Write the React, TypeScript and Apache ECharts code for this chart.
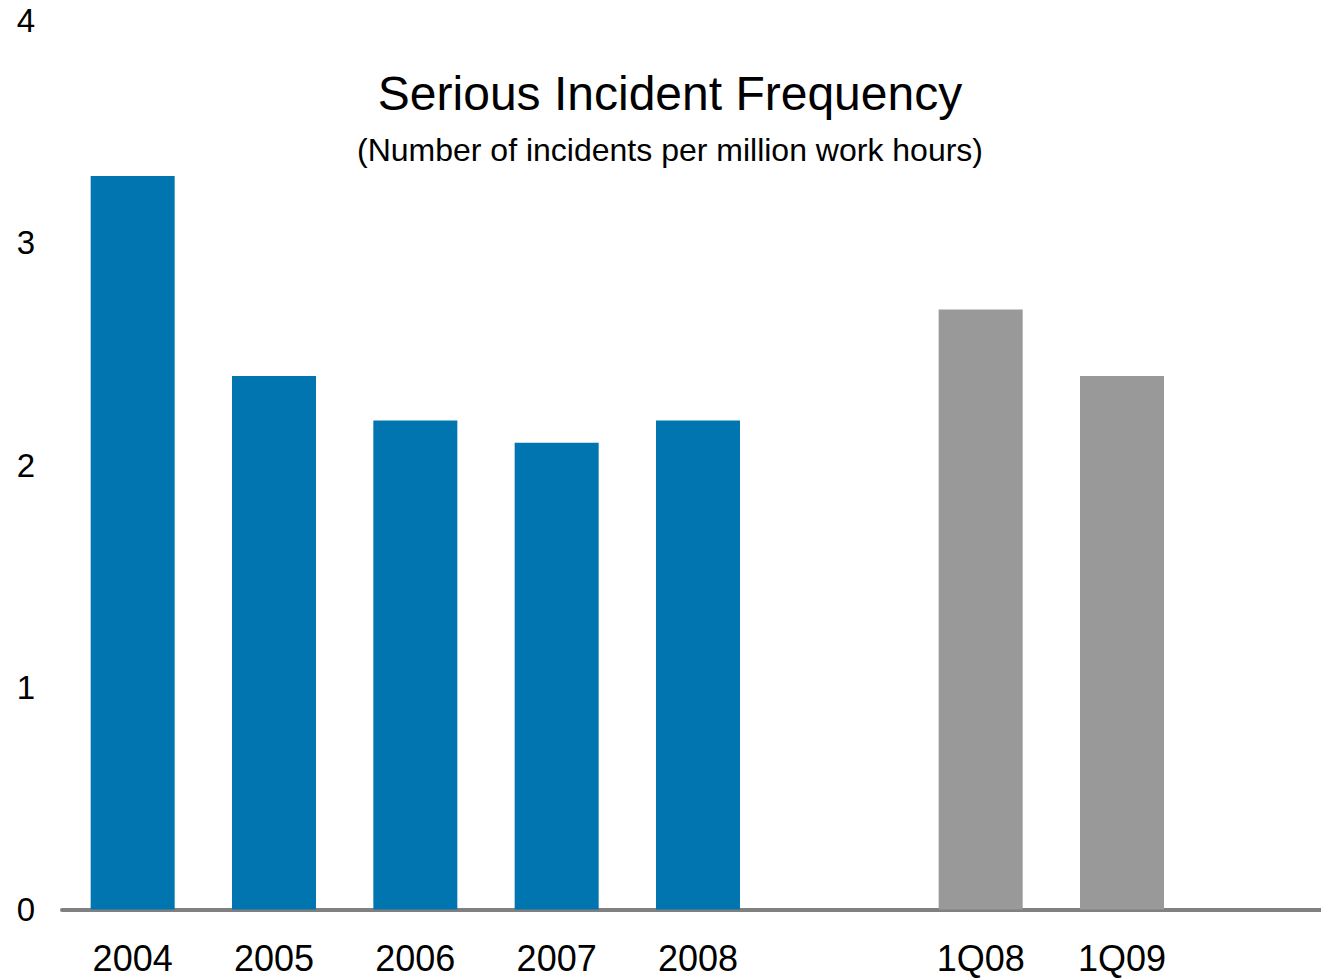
import React, { useEffect, useRef } from "react";
import * as echarts from "echarts";

const categories = ["2004", "2005", "2006", "2007", "2008", "", "1Q08", "1Q09", ""];
const annualValues = [3.3, 2.4, 2.2, 2.1, 2.2, null, null, null, null];
const quarterValues = [null, null, null, null, null, null, 2.7, 2.4, null];
const yTicks = [0, 1, 2, 3, 4];

const FONT = "'Liberation Sans', Arial, Helvetica, sans-serif";

export default function App() {
  const ref = useRef<HTMLDivElement>(null);
  useEffect(() => {
    if (!ref.current) return;
    const chart = echarts.init(ref.current, null, { renderer: "svg" });
    chart.setOption({
      animation: false,
      backgroundColor: "#ffffff",
      title: [
        {
          text: "Serious Incident Frequency",
          left: 665,
          top: 64,
          textAlign: "center",
          textStyle: { fontFamily: FONT, fontSize: 48, fontWeight: "normal", color: "#000" },
        },
        {
          text: "(Number of incidents per million work hours)",
          left: 665,
          top: 129,
          textAlign: "center",
          textStyle: { fontFamily: FONT, fontSize: 32, fontWeight: "normal", color: "#000" },
        },
      ],
      grid: { left: 62, width: 1272, top: 20.5, height: 889 },
      xAxis: {
        type: "category",
        data: categories,
        axisLine: { show: true, lineStyle: { color: "#808080", width: 4 } },
        axisTick: { show: false },
        axisLabel: {
          fontFamily: FONT,
          fontSize: 36,
          lineHeight: 30,
          color: "#000",
          margin: 34,
          interval: 0,
        },
        splitLine: { show: false },
      },
      yAxis: {
        type: "value",
        min: yTicks[0],
        max: yTicks[yTicks.length - 1],
        interval: 1,
        axisLine: { show: false },
        axisTick: { show: false },
        splitLine: { show: false },
        axisLabel: {
          fontFamily: FONT,
          fontSize: 33,
          color: "#000",
          align: "center",
          margin: 36,
        },
      },
      series: [
        {
          type: "bar",
          data: annualValues,
          barWidth: 84,
          barGap: "-100%",
          itemStyle: { color: "#0075B0" },
        },
        {
          type: "bar",
          data: quarterValues,
          barWidth: 84,
          barGap: "-100%",
          itemStyle: { color: "#999999" },
        },
      ],
    });
    return () => chart.dispose();
  }, []);
  return (
    <div
      style={{ position: "absolute", left: 0, top: 0, width: 1321, height: 978, overflow: "hidden" }}
    >
      <div ref={ref} style={{ width: 1340, height: 978 }} />
    </div>
  );
}
